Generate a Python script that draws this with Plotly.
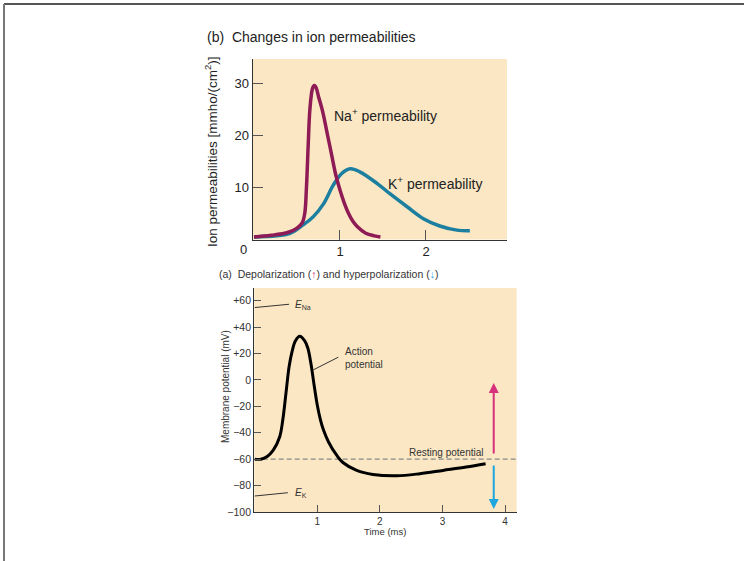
import plotly.graph_objects as go

W, H = 744, 561

# ---- data: top panel (ion permeabilities) ----
na_t = [0, 0.2, 0.4, 0.5, 0.56, 0.59, 0.61, 0.63, 0.65, 0.68, 0.70, 0.72, 0.75, 0.8, 0.85,
        0.9, 0.95, 1.0, 1.05, 1.1, 1.15, 1.2, 1.3, 1.4, 1.47]
na_perm = [0.5, 0.8, 1.4, 2.2, 3.2, 5, 10, 18, 25, 29, 29.6, 29.3, 27.5, 24.5, 20.5,
           16.5, 12.5, 9.5, 7, 5, 3.5, 2.5, 1.2, 0.7, 0.5]
k_t = [0, 0.42, 0.57, 0.69, 0.81, 0.92, 1.02, 1.12, 1.23, 1.43, 1.58, 1.78, 1.97, 2.16, 2.36, 2.51]
k_perm = [0.5, 1.2, 2.8, 4.4, 6.9, 10.4, 12.7, 13.6, 13.0, 10.8, 8.8, 6.3, 4.0, 2.6, 1.8, 1.7]
top_xticks = [1, 2]
top_yticks = [10, 20, 30]

# ---- data: bottom panel (membrane potential) ----
ap_t = [0, 0.1, 0.2, 0.3, 0.4, 0.45, 0.5, 0.55, 0.6, 0.65, 0.72, 0.8, 0.85, 0.9, 0.95,
        1.0, 1.05, 1.1, 1.18, 1.31, 1.41, 1.63, 1.89, 2.27, 2.64, 3.01, 3.38, 3.69]
ap_mv = [-60, -60, -58, -53, -43, -30, -10, 10, 22, 29.5, 33, 29.5, 24, 12, -4,
         -19, -30, -38, -47, -57, -62.5, -68.5, -71.6, -72.6, -71, -68.5, -66, -63.4]
resting_mv = -60
bot_xticks = [1, 2, 3, 4]
bot_yticks = [60, 40, 20, 0, -20, -40, -60, -80, -100]
bot_yticklabels = ["+60", "+40", "+20", "0", "\u221220", "\u221240", "\u221260", "\u221280", "\u2212100"]
depol_arrow = (3.82, -56.8, -2.3)    # x, tail y, head y
hyper_arrow = (3.82, -63.6, -97.7)
e_na_line = ([0.0, 0.55], [54.8, 57.3])
e_k_line = ([0.0, 0.53], [-87.9, -85.4])
ap_pointer = ([0.937, 1.336], [7.6, 17.2])

NA_COL = "#8E1B55"
K_COL = "#1D7FA0"
BG = "#FBE7C3"
FONT = "Liberation Sans, Arial, sans-serif"
TOP_TXT = "#222222"
BOT_TXT = "#333333"


def px(x):
    return x / W


def py(y):
    return 1 - y / H


fig = go.Figure()

fig.add_trace(go.Scatter(x=k_t, y=k_perm, mode="lines", line=dict(color=K_COL, width=3.5, shape="spline"),
                         xaxis="x", yaxis="y", hoverinfo="skip", showlegend=False))
fig.add_trace(go.Scatter(x=na_t, y=na_perm, mode="lines", line=dict(color=NA_COL, width=3.5, shape="spline"),
                         xaxis="x", yaxis="y", hoverinfo="skip", showlegend=False))

# bottom panel
fig.add_trace(go.Scatter(x=[0, 4.19], y=[resting_mv, resting_mv], mode="lines",
                         line=dict(color="#8a8a8a", width=1.2, dash="5px,3px"),
                         xaxis="x2", yaxis="y2", hoverinfo="skip", showlegend=False))
fig.add_trace(go.Scatter(x=ap_t, y=ap_mv, mode="lines", line=dict(color="black", width=3, shape="spline"),
                         xaxis="x2", yaxis="y2", hoverinfo="skip", showlegend=False))
for lx, ly in (e_na_line, e_k_line, ap_pointer):
    fig.add_trace(go.Scatter(x=lx, y=ly, mode="lines", line=dict(color="#333333", width=1),
                             xaxis="x2", yaxis="y2", hoverinfo="skip", showlegend=False))

axis_common = dict(showgrid=False, zeroline=False, showline=True, linecolor="#333333", linewidth=1.2,
                   ticks="inside", tickcolor="#555555", automargin=False, fixedrange=True)

fig.update_layout(
    width=W, height=H,
    margin=dict(l=0, r=0, t=0, b=0),
    paper_bgcolor="white",
    plot_bgcolor=BG,
    template="none",
    font=dict(family=FONT, color=TOP_TXT),
    xaxis=dict(domain=[px(252.7), px(507)], range=[-0.015, 2.942], tickvals=top_xticks,
               ticklen=10, tickfont=dict(size=13, color=TOP_TXT), anchor="y", **axis_common),
    yaxis=dict(domain=[py(239.5), py(59)], range=[0, 34.7], tickvals=top_yticks,
               ticklen=10, tickfont=dict(size=13, color=TOP_TXT), anchor="x", **axis_common),
    xaxis2=dict(domain=[px(254.3), px(516.7)], range=[-0.006, 4.187], tickvals=bot_xticks,
                ticklen=7, tickfont=dict(size=10, color=BOT_TXT), anchor="y2", **axis_common),
    yaxis2=dict(domain=[py(512), py(288)], range=[-100, 69.6], tickvals=bot_yticks,
                ticktext=bot_yticklabels, ticklen=7, tickfont=dict(size=10.5, color=BOT_TXT),
                anchor="x2", **axis_common),
)

ann = []
# top panel texts
ann.append(dict(x=px(205), y=py(37), xref="paper", yref="paper", xanchor="left", yanchor="middle",
                text="(b)  Changes in ion permeabilities", showarrow=False,
                font=dict(size=14, color=TOP_TXT)))
ann.append(dict(x=px(211), y=py(152), xref="paper", yref="paper", xanchor="center", yanchor="middle",
                text="Ion permeabilities [mmho/(cm<sup>2</sup>)]", textangle=-90, showarrow=False,
                font=dict(size=13.5, color=TOP_TXT)))
ann.append(dict(x=px(243), y=py(249), xref="paper", yref="paper", xanchor="center", yanchor="middle",
                text="0", showarrow=False, font=dict(size=13, color=TOP_TXT)))
ann.append(dict(x=0.907, y=23.9, xref="x", yref="y", xanchor="left", yanchor="middle",
                text="Na<sup>+</sup> permeability", showarrow=False, font=dict(size=14, color=TOP_TXT)))
ann.append(dict(x=1.535, y=10.8, xref="x", yref="y", xanchor="left", yanchor="middle",
                text="K<sup>+</sup> permeability", showarrow=False, font=dict(size=14, color=TOP_TXT)))

# bottom panel texts
ann.append(dict(x=px(217), y=py(274), xref="paper", yref="paper", xanchor="left", yanchor="middle",
                text="(a)  Depolarization (<span style='color:#D6317A'>\u2191</span>) and hyperpolarization "
                     "(<span style='color:#1FA6DE'>\u2193</span>)",
                showarrow=False, font=dict(size=10.5, color=BOT_TXT)))
ann.append(dict(x=px(225), y=py(387), xref="paper", yref="paper", xanchor="center", yanchor="middle",
                text="Membrane potential (mV)", textangle=-90, showarrow=False,
                font=dict(size=10, color=BOT_TXT)))
ann.append(dict(x=px(385), y=py(531), xref="paper", yref="paper", xanchor="center", yanchor="middle",
                text="Time (ms)", showarrow=False, font=dict(size=9.5, color=BOT_TXT)))
ann.append(dict(x=1.416, y=16.7, xref="x2", yref="y2", xanchor="left", yanchor="middle", align="left",
                text="Action<br>potential", showarrow=False, font=dict(size=10, color=BOT_TXT)))
ann.append(dict(x=3.697, y=-55.0, xref="x2", yref="y2", xanchor="right", yanchor="middle",
                text="Resting potential", showarrow=False, font=dict(size=10, color=BOT_TXT)))
ann.append(dict(x=0.61, y=56.8, xref="x2", yref="y2", xanchor="left", yanchor="middle",
                text="<i>E</i><sub>Na</sub>", showarrow=False, font=dict(size=10, color=BOT_TXT)))
ann.append(dict(x=0.61, y=-85.6, xref="x2", yref="y2", xanchor="left", yanchor="middle",
                text="<i>E</i><sub>K</sub>", showarrow=False, font=dict(size=10, color=BOT_TXT)))

# arrows
for (ax_x, tail, head), col in ((depol_arrow, "#D6317A"), (hyper_arrow, "#1FA6DE")):
    ann.append(dict(x=ax_x, y=head, ax=ax_x, ay=tail, xref="x2", yref="y2", axref="x2", ayref="y2",
                    text="", showarrow=True, arrowhead=2, arrowsize=1.0, arrowwidth=2, arrowcolor=col))

fig.update_layout(annotations=ann)

# frame lines on top and left edges
fig.add_shape(type="line", xref="paper", yref="paper", x0=px(4), x1=1, y0=py(4), y1=py(4),
              line=dict(color="#555555", width=2))
fig.add_shape(type="line", xref="paper", yref="paper", x0=px(4), x1=px(4), y0=py(4), y1=0,
              line=dict(color="#777777", width=2))

fig.write_html("out.html", config={"displayModeBar": False, "staticPlot": True},
               post_script="document.body.style.margin='0';document.body.style.overflow='hidden';")
